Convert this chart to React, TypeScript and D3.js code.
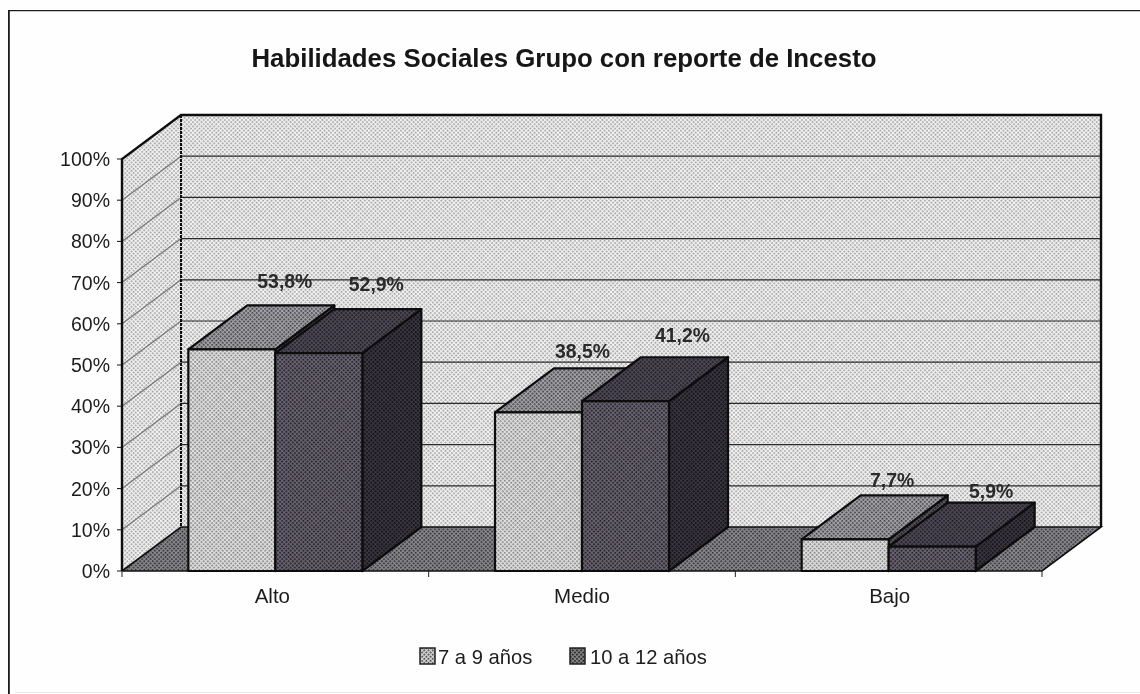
import * as React from "react";
import * as d3 from "d3";

const width = 1140;
const height = 694;

const categories = ["Alto", "Medio", "Bajo"];
const seriesNames = ["7 a 9 años", "10 a 12 años"];
const group1 = [53.8, 38.5, 7.7];
const group2 = [52.9, 41.2, 5.9];
const barLabels = [
  ["53,8%", "38,5%", "7,7%"],
  ["52,9%", "41,2%", "5,9%"],
];
const yTicks = [0, 10, 20, 30, 40, 50, 60, 70, 80, 90, 100];

const fontFamily = "'Liberation Sans', Arial, sans-serif";
const depthX = 59;
const depthY = 44;

// halftone look of the scanned print
const dither = (id: string, light: string, dark: string) => (
  <pattern id={id} width={3} height={3} patternUnits="userSpaceOnUse" patternTransform="rotate(45)">
    <rect width={3} height={3} fill={light} />
    <rect width={1.7} height={1.7} fill={dark} />
  </pattern>
);

const poly = (pts: [number, number][]) => pts.map((p) => p.join(",")).join(" ");

export default function App() {
  const x0 = d3
    .scaleBand()
    .domain(categories)
    .range([122, 1042])
    .paddingInner(0.4326)
    .paddingOuter(0.2163);
  const x1 = d3.scaleBand().domain(["0", "1"]).range([0, x0.bandwidth()]);
  const y = d3.scaleLinear().domain([0, 100]).range([571, 159]);

  const series = [group1, group2];
  const fills = [
    { front: "url(#barFront1)", top: "url(#barTop1)", side: "url(#barSide1)" },
    { front: "url(#barFront2)", top: "url(#barTop2)", side: "url(#barSide2)" },
  ];
  // label shift from the bar's centre and back top edge, [category][series]
  const labelOffset = [
    [[53, -17], [57.5, -18]],
    [[44, -10], [57, -15]],
    [[47, -8], [59, -5]],
  ];
  const categoryShift = [-3, 0, 1];

  const x = 122;
  const r = 1042;
  const y0 = y(0);
  const y100 = y(100);

  return (
    <svg
      width={width}
      height={height}
      style={{ position: "absolute", left: 0, top: 0, background: "#fefefe" }}
      fontFamily={fontFamily}
    >
      <defs>
        <filter id="scan" x="0" y="0" width="100%" height="100%">
          <feGaussianBlur stdDeviation={0.45} />
        </filter>
        {dither("wall", "#f4f4f4", "#9c9c9c")}
        {dither("floor", "#8c8c90", "#2c2c30")}
        {dither("barFront1", "#e2e2e2", "#7e7e7e")}
        {dither("barTop1", "#a4a4a8", "#3c3c40")}
        {dither("barSide1", "#55555a", "#141418")}
        {dither("barFront2", "#6a6670", "#1c1824")}
        {dither("barTop2", "#4e4a56", "#1a1720")}
        {dither("barSide2", "#3a3740", "#0e0c12")}
        {dither("legend1", "#d8d8d8", "#444")}
        {dither("legend2", "#888", "#141418")}
      </defs>

      <g filter="url(#scan)">
        <polyline points={poly([[8.5, 694], [8.5, 10], [1140, 10]])} fill="none" stroke="#1a1a1a" strokeWidth={2.6} />
        <line x1={15} x2={1140} y1={692.5} y2={692.5} stroke="#e6e6e6" strokeWidth={1} />

        <text x={564} y={67} textAnchor="middle" fontSize={25.8} fontWeight="bold" fill="#151515">
          Habilidades Sociales Grupo con reporte de Incesto
        </text>

        {/* walls and floor */}
        <polygon
          points={poly([[x + depthX, y100 - depthY], [r + depthX, y100 - depthY], [r + depthX, y0 - depthY], [x + depthX, y0 - depthY]])}
          fill="url(#wall)"
        />
        <polygon
          points={poly([[x, y100], [x + depthX, y100 - depthY], [x + depthX, y0 - depthY], [x, y0]])}
          fill="url(#wall)"
        />
        <polygon
          points={poly([[x, y0], [x + depthX, y0 - depthY], [r + depthX, y0 - depthY], [r, y0]])}
          fill="url(#floor)"
        />

        {/* gridlines */}
        {yTicks.slice(1, -1).map((t) => (
          <g key={t} strokeWidth={1.2}>
            <line x1={x + depthX} x2={r + depthX} y1={y(t) - depthY} y2={y(t) - depthY} stroke="#2a2a2a" />
            <line x1={x} x2={x + depthX} y1={y(t)} y2={y(t) - depthY} stroke="#777" />
          </g>
        ))}

        {/* wall outlines */}
        <polyline
          points={poly([[x, y0], [x, y100], [x + depthX, y100 - depthY], [r + depthX, y100 - depthY], [r + depthX, y0 - depthY]])}
          fill="none"
          stroke="#111"
          strokeWidth={2.4}
        />
        <polyline
          points={poly([[x, y0], [x + depthX, y0 - depthY], [r + depthX, y0 - depthY], [r, y0], [x, y0]])}
          fill="none"
          stroke="#111"
          strokeWidth={1.6}
        />
        <line x1={x + depthX} x2={x + depthX} y1={y100 - depthY} y2={y0 - depthY} stroke="#111" strokeWidth={2} strokeDasharray="3 1" />

        {/* y axis */}
        {yTicks.map((t) => (
          <g key={t}>
            <line x1={x - 5} x2={x} y1={y(t)} y2={y(t)} stroke="#111" />
            <text x={110} y={y(t) + 7} textAnchor="end" fontSize={19.5} fill="#1c1c1c">
              {t}%
            </text>
          </g>
        ))}

        {/* x axis */}
        {[...x0.domain().map((c) => x0(c)! - (x0.step() - x0.bandwidth()) / 2), r].map((t, i) => (
          <line key={i} x1={t} x2={t} y1={y0} y2={y0 + 6} stroke="#222" />
        ))}
        {categories.map((c, i) => (
          <text key={c} x={x0(c)! + x0.bandwidth() / 2 + categoryShift[i]} y={603} textAnchor="middle" fontSize={20.5} fill="#1c1c1c">
            {c}
          </text>
        ))}

        {/* bars */}
        {categories.map((c, ci) => (
          <g key={c}>
            {series.map((values, si) => {
              const left = x0(c)! + x1(String(si))!;
              const right = left + x1.bandwidth();
              const top = y(values[ci]);
              return (
                <g key={si} stroke="#0c0c0c" strokeWidth={2.2} strokeLinejoin="round">
                  <polygon
                    points={poly([[right, top], [right + depthX, top - depthY], [right + depthX, y0 - depthY], [right, y0]])}
                    fill={fills[si].side}
                  />
                  <polygon
                    points={poly([[left, top], [left + depthX, top - depthY], [right + depthX, top - depthY], [right, top]])}
                    fill={fills[si].top}
                  />
                  <rect x={left} y={top} width={x1.bandwidth()} height={y0 - top} fill={fills[si].front} />
                </g>
              );
            })}
          </g>
        ))}

        {/* data labels */}
        {categories.map((c, ci) =>
          series.map((values, si) => (
            <text
              key={c + si}
              x={x0(c)! + x1(String(si))! + x1.bandwidth() / 2 + labelOffset[ci][si][0]}
              y={y(values[ci]) - depthY + labelOffset[ci][si][1]}
              textAnchor="middle"
              fontSize={19.4}
              fontWeight="bold"
              fill="#2a2a2a"
            >
              {barLabels[si][ci]}
            </text>
          ))
        )}

        {/* legend */}
        <rect x={420} y={648} width={15} height={16} fill="url(#legend1)" stroke="#222" strokeWidth={1.5} />
        <text x={438} y={664} fontSize={20.2} fill="#1c1c1c">
          {seriesNames[0]}
        </text>
        <rect x={570} y={648} width={15} height={16} fill="url(#legend2)" stroke="#222" strokeWidth={1.5} />
        <text x={590} y={664} fontSize={20.2} fill="#1c1c1c">
          {seriesNames[1]}
        </text>
      </g>
    </svg>
  );
}
